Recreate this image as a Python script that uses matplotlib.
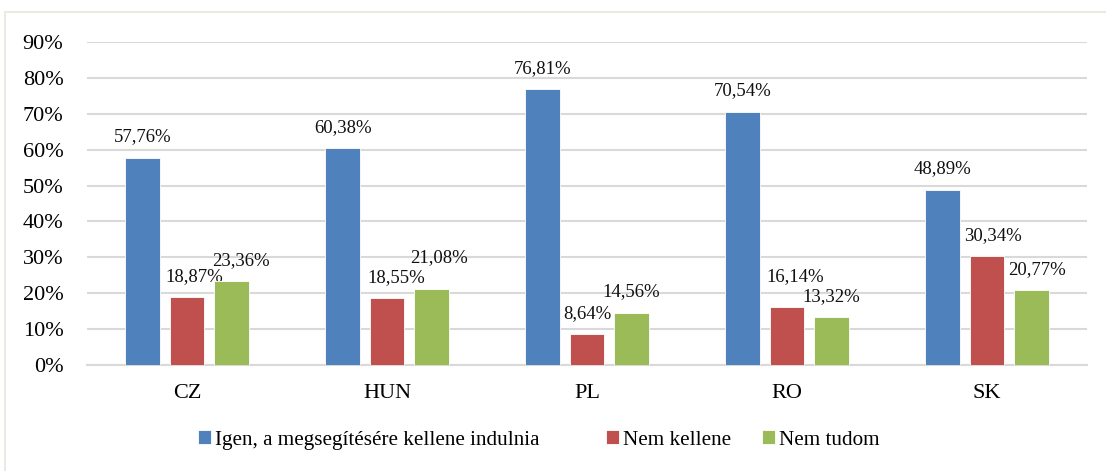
import matplotlib.pyplot as plt
import numpy as np
from matplotlib.patches import Rectangle

plt.rcParams['font.family'] = ['Liberation Serif', 'DejaVu Serif']

# data
countries = ['CZ', 'HUN', 'PL', 'RO', 'SK']
series_names = ['Igen, a megsegítésére kellene indulnia', 'Nem kellene', 'Nem tudom']
igen = [57.76, 60.38, 76.81, 70.54, 48.89]
nem_kellene = [18.87, 18.55, 8.64, 16.14, 30.34]
nem_tudom = [23.36, 21.08, 14.56, 13.32, 20.77]
colors = ['#4f81bd', '#c0504d', '#9bbb59']

# label nudges in px (dx, dy) where Excel moved labels to avoid overlap
nudge_x = [[0, 0, 0, 0, 0], [7, 9, 0, 8, 6], [10, 8, 0, 0, 6]]
nudge_y = [[0, 0, 0, 0, 0], [0, 0, 0, 10, 0], [0, 11, 0, 0, 0]]
legend_x = [198, 606, 762]  # left edge of each legend entry, px

fig = plt.figure(figsize=(11.06, 4.71), dpi=100)
ax = fig.add_axes([87 / 1106, 1 - 365 / 471, 1000 / 1106, 323 / 471])

# chart area border
fig.patches.append(Rectangle((5 / 1106, -0.1), 1.2, 1 - 12 / 471 + 0.1,
                             transform=fig.transFigure, fill=False,
                             edgecolor='#ece9df', linewidth=1.5))

x = np.arange(len(countries))
width = 0.1725
step = 0.2215
bars = []
for i, (vals, c) in enumerate(zip([igen, nem_kellene, nem_tudom], colors)):
    pos = x + (i - 1) * step
    b = ax.bar(pos, vals, width, color=c, edgecolor='white', linewidth=0.6,
               label=series_names[i], zorder=3)
    bars.append(b)
    for j, (p, v) in enumerate(zip(pos, vals)):
        ax.annotate(f'{v:.2f}%'.replace('.', ','), (p, v),
                    xytext=(nudge_x[i][j] * 0.72, 15 + nudge_y[i][j] * 0.72),
                    textcoords='offset points',
                    ha='center', va='center', fontsize=13.5, color='#111111')

ax.set_xlim(-0.5, len(countries) - 0.5)
ax.set_ylim(0, 90)
ax.set_yticks(np.arange(0, 91, 10))
ax.set_yticklabels([f'{t}%' for t in range(0, 91, 10)])
ax.set_xticks(x)
ax.set_xticklabels(countries)
ax.tick_params(axis='y', length=0, pad=17, labelsize=16)
ax.tick_params(axis='x', length=0, pad=14, labelsize=16)
ax.grid(axis='y', color='#d9d9d9', linewidth=1.5, zorder=0)
ax.set_axisbelow(True)
for s in ['top', 'right', 'left']:
    ax.spines[s].set_visible(False)
ax.spines['bottom'].set_color('#d9d9d9')
ax.spines['bottom'].set_linewidth(1.5)

# legend entries placed one by one like Excel does
for b, name, lx in zip(bars, series_names, legend_x):
    leg = fig.legend([b], [name], loc='center left',
                     bbox_to_anchor=(lx / 1106, 1 - 440 / 471),
                     frameon=False, fontsize=15.2, handlelength=0.6,
                     handleheight=0.6, handletextpad=0.2, borderpad=0,
                     borderaxespad=0)

fig.savefig('out.png', dpi=100)
